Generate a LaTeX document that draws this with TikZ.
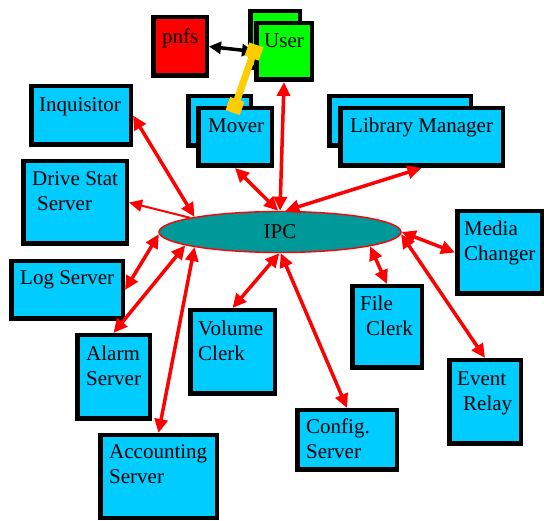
\documentclass[tikz,border=0pt]{standalone}
\usepackage{fontspec}
\setmainfont{Liberation Serif}
\usetikzlibrary{arrows.meta,shapes.geometric,calc}
\definecolor{boxblue}{RGB}{0,204,255}
\definecolor{usergreen}{RGB}{0,255,0}
\definecolor{pnfsred}{RGB}{255,0,0}
\definecolor{ipcteal}{RGB}{0,153,153}
\definecolor{linkgold}{RGB}{255,204,0}
\begin{document}
\begin{tikzpicture}[x=1pt,y=-1pt,
  box/.style={draw=black, line width=4.5pt, fill=boxblue, inner sep=0pt},
  lbl/.style={inner sep=0pt, anchor=north west, align=left, font=\fontsize{21}{25}\selectfont},
  conn/.style={draw=red, line width=3.5pt, {Triangle[length=14pt,width=13pt]}-{Triangle[length=14pt,width=13pt]}},
  oneway/.style={draw=red, line width=2pt, -{Triangle[length=13pt,width=12pt]}},
  blackconn/.style={draw=black, line width=3.5pt, {Triangle[length=12pt,width=12pt]}-{Triangle[length=12pt,width=12pt]}},
  goldlink/.style={draw=linkgold, line width=7pt},
  goldcap/.style={draw=linkgold, line width=15pt}
]
\useasboundingbox (0,0) rectangle (544,521);

% stacked back boxes
\node[box, fill=usergreen, minimum width=49.5pt, minimum height=56.5pt] (userb) at (275,39.5) {};
\node[box, minimum width=62.5pt, minimum height=49.5pt] (moverb) at (219.5,121) {};
\node[box, minimum width=141.5pt, minimum height=49.5pt] (lmb) at (400,121) {};

% boxes
\node[box, fill=pnfsred, minimum width=53.5pt, minimum height=58.5pt] (pnfs) at (180,46.5) {};
\node[box, fill=usergreen, minimum width=55.5pt, minimum height=56.5pt] (userf) at (284,51.5) {};
\node[box, minimum width=73.5pt, minimum height=57.5pt] (moverf) at (235,137) {};
\node[box, minimum width=162.5pt, minimum height=57.5pt] (lmf) at (421.5,137) {};
\node[box, minimum width=99.5pt, minimum height=58.5pt] (inq) at (81,115.5) {};
\node[box, minimum width=103.5pt, minimum height=82.5pt] (ds) at (75,202.5) {};
\node[box, minimum width=111.5pt, minimum height=57.5pt] (log) at (67,290) {};
\node[box, minimum width=72.5pt, minimum height=83.5pt] (alarm) at (113.5,377) {};
\node[box, minimum width=116.5pt, minimum height=82.5pt] (acc) at (158.5,476.5) {};
\node[box, minimum width=84.5pt, minimum height=83.5pt] (vol) at (232.5,352) {};
\node[box, minimum width=99.5pt, minimum height=59.5pt] (cfg) at (347,440) {};
\node[box, minimum width=69.5pt, minimum height=81.5pt] (fc) at (387,327) {};
\node[box, minimum width=84.5pt, minimum height=82.5pt] (mc) at (499.5,252.5) {};
\node[box, minimum width=71.5pt, minimum height=83.5pt] (ev) at (485,402) {};

% labels
\node[lbl] (pnfst) at (162,25.5) {\strut pnfs};
\node[lbl] (usert) at (264,29.5) {\strut User};
\node[lbl] (movert) at (208,114.5) {\strut Mover};
\node[lbl] (lmt) at (350,114.5) {\strut Library Manager};
\node[lbl] (inqt) at (39,93.5) {\strut Inquisitor};
\node[lbl] (dst) at (32,167.5) {\strut Drive Stat\\\hspace*{5pt}Server};
\node[lbl] (logt) at (20,266.5) {\strut Log Server};
\node[lbl] (alarmt) at (86,342.5) {\strut Alarm\\Server};
\node[lbl] (acct) at (109,440.5) {\strut Accounting\\Server};
\node[lbl] (volt) at (198,317.5) {\strut Volume\\Clerk};
\node[lbl] (cfgt) at (306,415.5) {\strut Config.\\Server};
\node[lbl] (fct) at (360,292.5) {\strut File\\\hspace*{6pt}Clerk};
\node[lbl] (mct) at (464,217.5) {\strut Media\\Changer};
\node[lbl] (evt) at (457,367.5) {\strut Event\\\hspace*{6pt}Relay};

% IPC
\node[ellipse, draw=red, line width=1.4pt, fill=ipcteal, inner sep=0pt,
      minimum width=242pt, minimum height=41pt,
      font=\fontsize{21}{25}\selectfont] (ipc) at (280,232) {IPC};

% connectors
\draw[oneway] (ipc.171) -- (ds.east);
\draw[conn] (inq.east) -- (ipc.170);
\draw[conn] (log.east) -- (ipc.181);
\draw[conn] (alarm.north) -- (ipc.188);
\draw[conn] (acc.north) -- (ipc.190);
\draw[conn] (vol.north) -- (ipc.268);
\draw[conn] (cfg.north) -- (ipc.272);
\draw[conn] (fc.north) -- (ipc.351);
\draw[conn] (mc.west) -- (ipc.0);
\draw[conn] (ev.north) -- (ipc.359);
\draw[conn] (moverf.south) -- (ipc.95);
\draw[conn] (userf.south) -- (ipc.90);
\draw[conn] (lmf.south) -- (ipc.76);
\draw[blackconn] (pnfs.east) -- (userf.west);

% gold link between User and Mover
\draw[goldlink] (userf.west) -- (moverf.north);
\draw[goldcap] ($(userf.west)!-7pt!(moverf.north)$) -- ($(userf.west)!7pt!(moverf.north)$);
\draw[goldcap] ($(moverf.north)!-7pt!(userf.west)$) -- ($(moverf.north)!7pt!(userf.west)$);
\end{tikzpicture}
\end{document}
